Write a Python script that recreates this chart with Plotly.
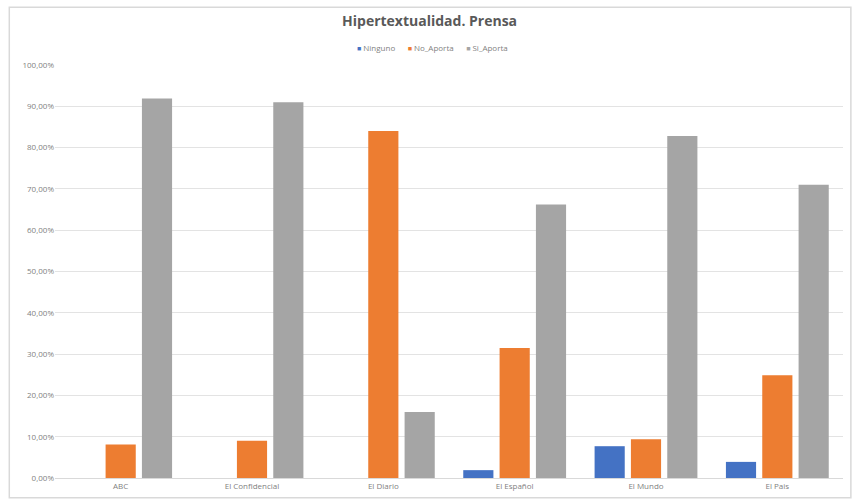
import plotly.graph_objects as go

# Newspapers and share of items per hypertextuality category (percent)
medios = ["ABC", "El Confidencial", "El Diario", "El Español", "El Mundo", "El Pais"]
ninguno = [0.0, 0.0, 0.0, 1.9, 7.7, 3.9]
no_aporta = [8.1, 9.0, 84.0, 31.5, 9.4, 24.9]
si_aporta = [91.9, 91.0, 16.0, 66.2, 82.8, 71.0]
y_ticks = [0, 10, 20, 30, 40, 50, 60, 70, 80, 90, 100]

series = [
    ("Ninguno", ninguno, "#4472C4"),
    ("No_Aporta", no_aporta, "#ED7D31"),
    ("Si_Aporta", si_aporta, "#A5A5A5"),
]

fig = go.Figure()
for name, vals, color in series:
    fig.add_trace(go.Bar(
        x=medios,
        y=[v / 100 for v in vals],
        name=name,
        marker=dict(color=color, line=dict(width=0)),
        showlegend=False,
    ))

# Compact legend: small coloured squares followed by the series names
legend_text = "      ".join(
    f"<span style='color:{color};font-size:7px'>■</span> {name}"
    for name, _, color in series
)

fig.update_layout(
    width=854,
    height=502,
    separators=",.",
    barmode="group",
    bargap=0.17,
    bargroupgap=0.17,
    paper_bgcolor="white",
    plot_bgcolor="white",
    margin=dict(l=55, r=11, t=65, b=24),
    font=dict(family="Open Sans, Liberation Sans, sans-serif", color="#7f7f7f", size=8),
    title=dict(
        text="<b>Hipertextualidad. Prensa</b>",
        x=0.503, xanchor="center", y=0.958, yanchor="middle",
        font=dict(size=14, color="#595959", family="Open Sans, Liberation Sans, sans-serif"),
    ),
    showlegend=False,
    annotations=[dict(
        text=legend_text, xref="paper", yref="paper",
        x=0.479, xanchor="center", y=1.042, yanchor="middle",
        showarrow=False, font=dict(size=8, color="#7f7f7f"),
    )],
    xaxis=dict(
        showgrid=False, showline=True, linecolor="#d9d9d9", linewidth=1,
        ticks="", tickfont=dict(size=8, color="#7f7f7f"),
    ),
    yaxis=dict(
        range=[0, 1.0],
        tickvals=[t / 100 for t in y_ticks],
        tickformat=".2%",
        showgrid=True, gridcolor="#e3e3e3", gridwidth=1,
        zeroline=False, showline=False,
        tickfont=dict(size=8, color="#7f7f7f"),
        ticks="", ticklen=0,
    ),
    shapes=[dict(
        type="rect", xref="paper", yref="paper",
        x0=-0.058, x1=1.01, y0=-0.048, y1=1.14,
        line=dict(color="#d9d9d9", width=1.5), layer="below",
    )],
)

fig.write_html("out.html")
